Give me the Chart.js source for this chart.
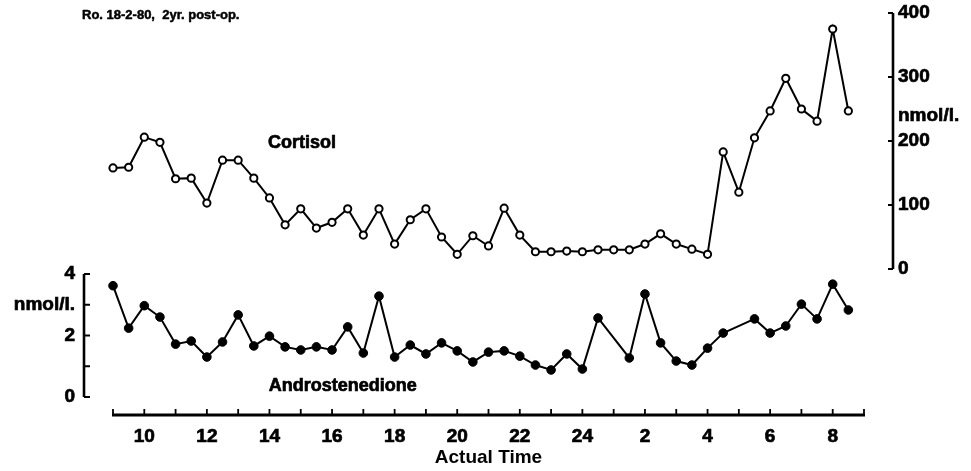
<!DOCTYPE html>
<html>
<head>
<meta charset="utf-8">
<script src="https://cdn.jsdelivr.net/npm/chart.js@4.4.0/dist/chart.umd.min.js"></script>
<style>
  html, body { margin: 0; padding: 0; background: #fff; }
  #wrap { width: 971px; height: 471px; }
  canvas { display: block; }
</style>
</head>
<body>
<div id="wrap"><canvas id="chart" width="971" height="471"></canvas></div>
<script>
// Sampling times (clock hours; values past 24 are the following morning)
const cortisolHours = [9, 9.5, 10, 10.5, 11, 11.5, 12, 12.5, 13, 13.5, 14, 14.5, 15, 15.5, 16, 16.5,
  17, 17.5, 18, 18.5, 19, 19.5, 20, 20.5, 21, 21.5, 22, 22.5, 23, 23.5, 24, 24.5,
  25, 25.5, 26, 26.5, 27, 27.5, 28, 28.5, 29, 29.5, 30, 30.5, 31, 31.5, 32, 32.5];
// Cortisol, nmol/l
const cortisolValues = [158, 159, 206, 198, 141, 142, 103, 170, 170, 142, 111, 69, 94, 64, 73, 94,
  53, 94, 39, 77, 94, 50, 23, 52, 36, 95, 53, 27, 27, 28, 27, 30,
  30, 30, 39, 55, 39, 31, 23, 183, 120, 205, 247, 298, 250, 231, 375, 247];

const androHours = [9, 9.5, 10, 10.5, 11, 11.5, 12, 12.5, 13, 13.5, 14, 14.5, 15, 15.5, 16, 16.5,
  17, 17.5, 18, 18.5, 19, 19.5, 20, 20.5, 21, 21.5, 22, 22.5, 23, 23.5, 24, 24.5,
  25.5, 26, 26.5, 27, 27.5, 28, 28.5, 29.5, 30, 30.5, 31, 31.5, 32, 32.5];
// Androstenedione, nmol/l
const androValues = [3.62, 2.24, 2.97, 2.60, 1.72, 1.82, 1.30, 1.79, 2.67, 1.66, 1.98, 1.63, 1.53, 1.63, 1.53, 2.28,
  1.43, 3.28, 1.30, 1.69, 1.40, 1.76, 1.50, 1.14, 1.46, 1.50, 1.33, 1.04, 0.88, 1.40, 0.91, 2.57,
  1.27, 3.35, 1.76, 1.17, 1.04, 1.59, 2.08, 2.54, 2.08, 2.31, 3.02, 2.54, 3.67, 2.83];

// Axis ticks
const hourTicks = [9, 10, 11, 12, 13, 14, 15, 16, 17, 18, 19, 20, 21, 22, 23, 24,
  25, 26, 27, 28, 29, 30, 31, 32, 33];
const cortisolTicks = [0, 100, 200, 300, 400];
const androTicks = [0, 1, 2, 3, 4];
const unitLabel = 'nmol/l.';
const cortisolUnitAt = 240;
const androUnitAt = 3;

const FONT = '"Liberation Sans", Arial, Helvetica, sans-serif';
const AXIS_GAP = 29;   // distance of the value axes from the plot edges

function clockLabel(h) {
  if (h % 2 !== 0) return '';
  return String(h <= 24 ? h : h - 24);
}

function pinBox(size, horizontal) {
  return function (scale) {
    if (horizontal) scale.height = size; else scale.width = size;
    scale.paddingTop = 0; scale.paddingBottom = 0;
    scale.paddingLeft = 0; scale.paddingRight = 0;
  };
}

function heavyText(ctx, text, x, y) {
  ctx.strokeText(text, x, y);
  ctx.fillText(text, x, y);
}

// Hand-drawn axis lines with inward tick marks, plus captions
const axisFrame = {
  id: 'axisFrame',
  afterDraw(chart) {
    const { ctx, chartArea, scales } = chart;
    const xs = scales.x, yc = scales.yCort, ya = scales.yAndro;
    ctx.save();
    ctx.strokeStyle = '#000';
    ctx.lineCap = 'butt';

    // time axis
    const by = chartArea.bottom;
    ctx.lineWidth = 3;
    ctx.beginPath();
    ctx.moveTo(xs.getPixelForValue(hourTicks[0]) - 1, by);
    ctx.lineTo(xs.getPixelForValue(hourTicks[hourTicks.length - 1]) + 1, by);
    ctx.stroke();
    ctx.lineWidth = 1.8;
    ctx.beginPath();
    hourTicks.forEach(h => {
      const px = xs.getPixelForValue(h);
      ctx.moveTo(px, by);
      ctx.lineTo(px, by - 6);
    });
    ctx.stroke();

    // cortisol axis (right)
    const rx = chartArea.right + AXIS_GAP;
    ctx.lineWidth = 2.6;
    ctx.beginPath();
    ctx.moveTo(rx, yc.getPixelForValue(cortisolTicks[cortisolTicks.length - 1]));
    ctx.lineTo(rx, yc.getPixelForValue(cortisolTicks[0]));
    ctx.stroke();
    ctx.lineWidth = 1.8;
    ctx.beginPath();
    cortisolTicks.forEach(v => {
      const py = yc.getPixelForValue(v);
      ctx.moveTo(rx, py);
      ctx.lineTo(rx - 5, py);
    });
    ctx.stroke();

    // androstenedione axis (left)
    const lx = chartArea.left - AXIS_GAP;
    ctx.lineWidth = 2.6;
    ctx.beginPath();
    ctx.moveTo(lx, ya.getPixelForValue(androTicks[androTicks.length - 1]));
    ctx.lineTo(lx, ya.getPixelForValue(androTicks[0]));
    ctx.stroke();
    ctx.lineWidth = 1.8;
    ctx.beginPath();
    androTicks.forEach(v => {
      const py = ya.getPixelForValue(v);
      ctx.moveTo(lx, py);
      ctx.lineTo(lx + 6, py);
    });
    ctx.stroke();

    // captions
    ctx.fillStyle = '#000';
    ctx.lineJoin = 'round';
    ctx.textBaseline = 'middle';
    ctx.textAlign = 'left';
    ctx.lineWidth = 0.5;
    ctx.font = 'bold 13px ' + FONT;
    heavyText(ctx, 'Ro. 18-2-80,  2yr. post-op.', 82, 15);
    ctx.lineWidth = 0.7;
    ctx.font = 'bold 18px ' + FONT;
    heavyText(ctx, 'Cortisol', xs.getPixelForValue(13.95), yc.getPixelForValue(197));
    heavyText(ctx, 'Androstenedione', xs.getPixelForValue(13.98), ya.getPixelForValue(0.36));
    ctx.restore();
  }
};

const tickFont = { family: FONT, size: 19, weight: 'bold' };

new Chart(document.getElementById('chart'), {
  type: 'line',
  data: {
    datasets: [
      {
        label: 'Cortisol',
        data: cortisolHours.map((h, i) => ({ x: h, y: cortisolValues[i] })),
        yAxisID: 'yCort',
        borderColor: '#000',
        borderWidth: 2,
        pointRadius: 3.6,
        pointBorderWidth: 2,
        pointBackgroundColor: '#fff',
        pointBorderColor: '#000',
        tension: 0,
        clip: false
      },
      {
        label: 'Androstenedione',
        data: androHours.map((h, i) => ({ x: h, y: androValues[i] })),
        yAxisID: 'yAndro',
        borderColor: '#000',
        borderWidth: 2,
        pointRadius: 4.3,
        pointBorderWidth: 1,
        pointBackgroundColor: '#000',
        pointBorderColor: '#000',
        tension: 0,
        clip: false
      }
    ]
  },
  options: {
    responsive: false,
    animation: false,
    devicePixelRatio: 1,
    layout: { padding: { top: 13, left: 0, right: 0, bottom: 0 } },
    plugins: { legend: { display: false }, tooltip: { enabled: false } },
    scales: {
      x: {
        type: 'linear',
        position: 'bottom',
        min: 9,
        max: 33,
        afterBuildTicks: s => { s.ticks = hourTicks.map(v => ({ value: v })); },
        afterFit: pinBox(56, true),
        grid: { display: false, drawTicks: false },
        border: { display: false },
        ticks: {
          autoSkip: false,
          maxRotation: 0,
          padding: 10,
          color: '#000',
          font: tickFont,
          textStrokeColor: '#000',
          textStrokeWidth: 0.7,
          callback: v => clockLabel(v)
        },
        title: {
          display: true,
          text: 'Actual Time',
          color: '#000',
          font: { family: FONT, size: 19, weight: 'bold' },
          padding: { top: 0, bottom: 2 }
        }
      },
      yCort: {
        type: 'linear',
        position: 'right',
        min: -228.1,
        max: 400,
        afterBuildTicks: s => {
          s.ticks = cortisolTicks.concat([cortisolUnitAt]).map(v => ({ value: v }));
        },
        afterFit: pinBox(107, false),
        grid: { display: false, drawTicks: false },
        border: { display: false },
        ticks: {
          padding: 34,
          color: '#000',
          font: tickFont,
          textStrokeColor: '#000',
          textStrokeWidth: 0.7,
          callback: v => (v === cortisolUnitAt ? unitLabel : String(v))
        }
      },
      yAndro: {
        type: 'linear',
        position: 'left',
        min: -0.585,
        max: 12.488,
        afterBuildTicks: s => { s.ticks = androTicks.map(v => ({ value: v })); },
        afterFit: pinBox(113, false),
        grid: { display: false, drawTicks: false },
        border: { display: false },
        ticks: {
          padding: 38,
          color: '#000',
          font: tickFont,
          textStrokeColor: '#000',
          textStrokeWidth: 0.7,
          callback: v => (v === androUnitAt ? unitLabel : (v % 2 === 0 ? String(v) : ''))
        }
      }
    }
  },
  plugins: [axisFrame]
});
</script>
</body>
</html>
